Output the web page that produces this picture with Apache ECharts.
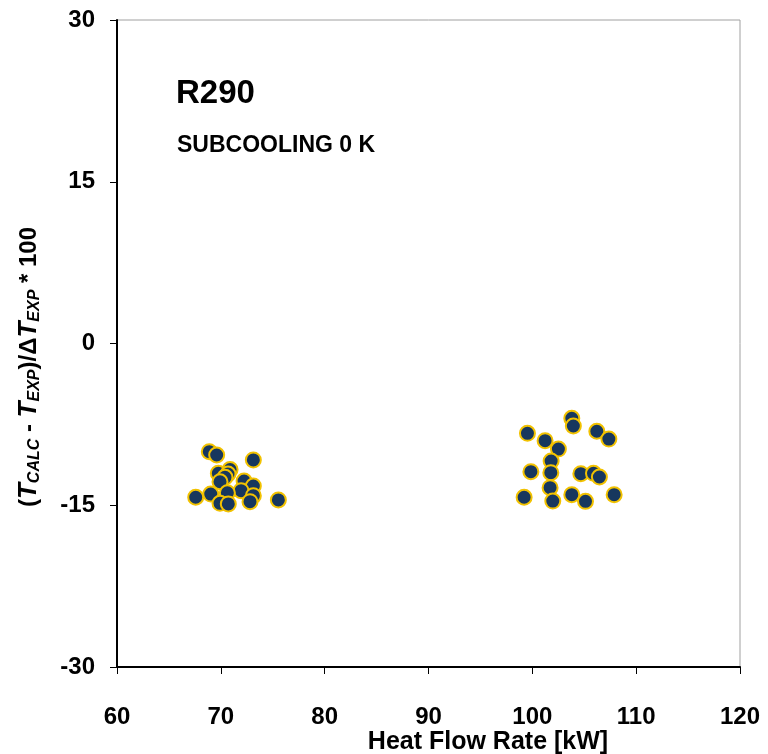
<!DOCTYPE html>
<html><head><meta charset="utf-8">
<script src="https://cdn.jsdelivr.net/npm/echarts@6/dist/echarts.min.js"></script>
<style>html,body{margin:0;padding:0;background:#fff}#c{width:768px;height:754px}</style>
</head><body><div id="c"></div>
<script>
const xTicks = [60, 70, 80, 90, 100, 110, 120];
const yTicks = [-30, -15, 0, 15, 30];
const clusterA_x = [68.89, 69.60, 73.13, 69.76, 70.89, 70.69, 70.40, 69.92, 72.24, 73.13, 71.95, 70.63, 69.03, 67.58, 73.13, 72.81, 69.92, 70.72, 75.54];
const clusterA_y = [-10.03, -10.34, -10.80, -12.04, -11.69, -12.10, -12.41, -12.82, -12.75, -13.22, -13.65, -13.84, -13.96, -14.26, -14.11, -14.67, -14.82, -14.88, -14.51];
const clusterB_x = [103.80, 103.95, 99.53, 106.21, 107.37, 101.23, 102.51, 101.81, 99.86, 101.78, 104.67, 105.89, 106.46, 101.71, 99.21, 103.80, 107.88, 101.97, 105.12];
const clusterB_y = [-6.94, -7.65, -8.33, -8.14, -8.86, -9.01, -9.79, -10.90, -11.89, -11.98, -12.07, -12.04, -12.38, -13.37, -14.26, -14.02, -14.02, -14.61, -14.64];

const pts = [];
clusterA_x.forEach((x, i) => pts.push([x, clusterA_y[i]]));
clusterB_x.forEach((x, i) => pts.push([x, clusterB_y[i]]));

const chart = echarts.init(document.getElementById('c'));
const F = '"Liberation Sans", Arial, sans-serif';
chart.setOption({
  animation: false,
  grid: { left: 117, right: 28, top: 20, bottom: 87, show: true, borderColor: '#a0a0a0', borderWidth: 1 },
  xAxis: {
    type: 'value', min: xTicks[0], max: xTicks[xTicks.length - 1], interval: 10,
    axisLine: { show: true, onZero: false, lineStyle: { color: '#000', width: 2 } },
    axisTick: { show: true, inside: false, length: 7, lineStyle: { color: '#000', width: 1 } },
    splitLine: { show: false },
    axisLabel: { color: '#000', fontFamily: F, fontWeight: 'bold', fontSize: 24, margin: 38 }
  },
  yAxis: {
    type: 'value', min: yTicks[0], max: yTicks[yTicks.length - 1], interval: 15,
    axisLine: { show: true, onZero: false, lineStyle: { color: '#000', width: 2 } },
    axisTick: { show: true, inside: false, length: 7, lineStyle: { color: '#000', width: 1 } },
    splitLine: { show: false },
    axisLabel: { color: '#000', fontFamily: F, fontWeight: 'bold', fontSize: 24, margin: 22 }
  },
  graphic: [
    { type: 'text', left: 176, top: 77, style: { text: 'R290', font: 'bold 33px ' + F, fill: '#000' } },
    { type: 'text', left: 177, top: 134, style: { text: 'SUBCOOLING 0 K', font: 'bold 23px ' + F, fill: '#000' } },
    { type: 'text', x: 488, y: 742, style: { text: 'Heat Flow Rate [kW]', font: 'bold 25px ' + F, fill: '#000', align: 'center', verticalAlign: 'middle' } },
    { type: 'text', x: 29, y: 367, rotation: Math.PI / 2,
      style: {
        text: '{n|(}{i|T}{s|CALC}{n| - }{i|T}{s|EXP}{n|)/Δ}{i|T}{s|EXP}{n| * 100}',
        align: 'center', verticalAlign: 'middle',
        rich: {
          n: { fontFamily: F, fontWeight: 'bold', fontSize: 24, fill: '#000', lineHeight: 28, verticalAlign: 'middle' },
          i: { fontFamily: F, fontWeight: 'bold', fontStyle: 'italic', fontSize: 26, fill: '#000', lineHeight: 28, verticalAlign: 'middle' },
          s: { fontFamily: F, fontWeight: 'bold', fontStyle: 'italic', fontSize: 16, fill: '#000', lineHeight: 16, verticalAlign: 'bottom', padding: [10, 0, 0, 0] }
        }
      }
    }
  ],
  series: [{
    type: 'scatter', data: pts, symbol: 'circle', symbolSize: 15,
    itemStyle: { color: '#17375e', opacity: 1, borderColor: '#f2c200', borderWidth: 2 }
  }]
});
</script></body></html>
